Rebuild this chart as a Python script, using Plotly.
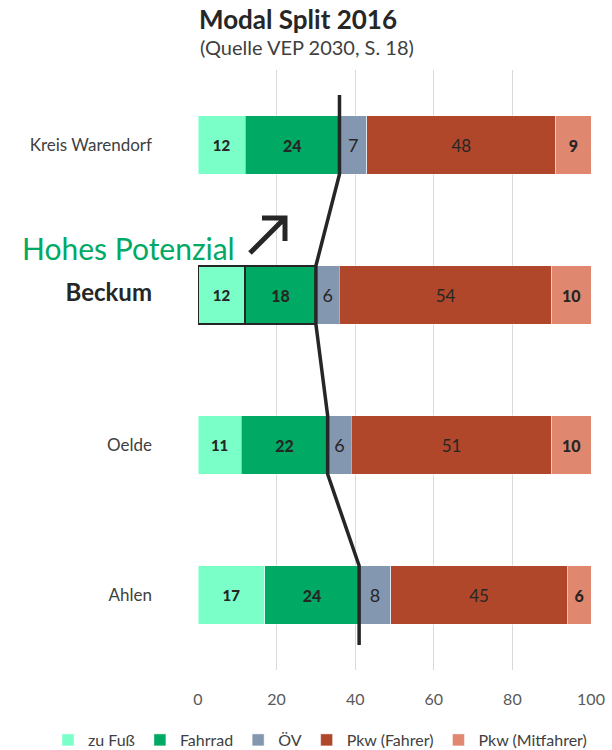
import plotly.graph_objects as go

# ---- data ----
regions = ["Kreis Warendorf", "Beckum", "Oelde", "Ahlen"]
positions = [3, 2, 1, 0]
series_names = ["zu Fuß", "Fahrrad", "ÖV", "Pkw (Fahrer)", "Pkw (Mitfahrer)"]
zu_fuss = [12, 12, 11, 17]
fahrrad = [24, 18, 22, 24]
oev = [7, 6, 6, 8]
pkw_fahrer = [48, 54, 51, 45]
pkw_mitfahrer = [9, 10, 10, 6]
x_ticks = [0, 20, 40, 60, 80, 100]
highlight = "Beckum"

colors = ["#7affc9", "#00a964", "#8497b0", "#b0472a", "#e0876f"]
series_values = [zu_fuss, fahrrad, oev, pkw_fahrer, pkw_mitfahrer]
label_fonts = [
    dict(size=15, color="#262626", family="Lato Black, Lato"),
    dict(size=16, color="#262626", family="Lato Black, Lato"),
    dict(size=18, color="#262626", family="Lato"),
    dict(size=17, color="#262626", family="Lato"),
    dict(size=16, color="#262626", family="Lato Black, Lato"),
]

BAR_W = 0.39
fig = go.Figure()

for i, (name, vals) in enumerate(zip(series_names, series_values)):
    if i < 2:
        lw = [2.2 if r == highlight else 0.8 for r in regions]
        lc = ["#262626" if r == highlight else "rgba(255,255,255,0.6)" for r in regions]
    else:
        lw = [0.8] * len(regions)
        lc = ["rgba(255,255,255,0.6)"] * len(regions)
    fig.add_trace(go.Bar(
        name=name, y=positions, x=vals, orientation="h",
        width=BAR_W,
        marker=dict(color=colors[i], line=dict(width=lw, color=lc)),
        text=vals, textposition="inside", insidetextanchor="middle",
        textangle=0, constraintext="none",
        textfont=label_fonts[i],
        hoverinfo="skip",
    ))

# line along the cumulative active-mobility share (zu Fuß + Fahrrad)
active = [a + b for a, b in zip(zu_fuss, fahrrad)]
lx, ly = [], []
for k, (p, v) in enumerate(zip(positions, active)):
    top = p + BAR_W / 2 if k > 0 else p + 0.333
    bot = p - BAR_W / 2 if k < len(positions) - 1 else p - 0.333
    lx += [v, v]
    ly += [top, bot]
fig.add_trace(go.Scatter(x=lx, y=ly, mode="lines",
                         line=dict(color="#262626", width=3.5),
                         showlegend=False, hoverinfo="skip"))

ticktext = [f"<b><span style='font-size:24px;color:#262626'>{r}</span></b>" if r == highlight else r
            for r in regions]

# helpers: page pixel -> paper fraction
def px(xp):
    return (xp - 198) / 393
def py(yp):
    return (670 - yp) / 600

arrow_path = (f"M {px(250)},{py(253)} L {px(285)},{py(218)} "
              f"M {px(262)},{py(218)} L {px(285)},{py(218)} L {px(285)},{py(241)}")

fig.update_layout(
    width=612, height=750,
    margin=dict(l=198, r=21, t=70, b=80, autoexpand=False),
    paper_bgcolor="white", plot_bgcolor="white",
    barmode="stack",
    font=dict(family="Lato", color="#404040", size=16),
    xaxis=dict(range=[0, 100], tickvals=x_ticks, showgrid=True,
               gridcolor="#d9d9d9", gridwidth=1, zeroline=False,
               showline=False, ticks="", ticklabelstandoff=18,
               tickfont=dict(size=16, color="#595959"), fixedrange=True),
    yaxis=dict(range=[-0.5, 3.5], tickvals=positions, ticktext=ticktext,
               showgrid=False, zeroline=False, showline=False, ticks="",
               ticklabelstandoff=45,
               tickfont=dict(size=17, color="#404040"), fixedrange=True),
    legend=dict(orientation="h", x=px(48), xanchor="left", y=py(740),
                yanchor="middle", font=dict(size=16, color="#404040"),
                traceorder="normal", itemwidth=30),
    showlegend=True,
    shapes=[dict(type="path", path=arrow_path, xref="paper", yref="paper",
                 line=dict(color="#262626", width=5))],
    annotations=[
        dict(text="<b>Modal Split 2016</b>", xref="paper", yref="paper",
             x=px(298), y=py(19), showarrow=False, xanchor="center",
             yanchor="middle", font=dict(size=26, color="#262626")),
        dict(text="(Quelle VEP 2030, S. 18)", xref="paper", yref="paper",
             x=px(307), y=py(47), showarrow=False, xanchor="center",
             yanchor="middle", font=dict(size=20, color="#404040")),
        dict(text="Hohes Potenzial", xref="paper", yref="paper",
             x=px(128), y=py(248), showarrow=False, xanchor="center",
             yanchor="middle", font=dict(size=30, color="#00a964")),
    ],
)

fig.write_html(
    "out.html",
    config={"displayModeBar": False},
    post_script="document.body.style.margin='0';document.body.style.overflow='hidden';",
)
